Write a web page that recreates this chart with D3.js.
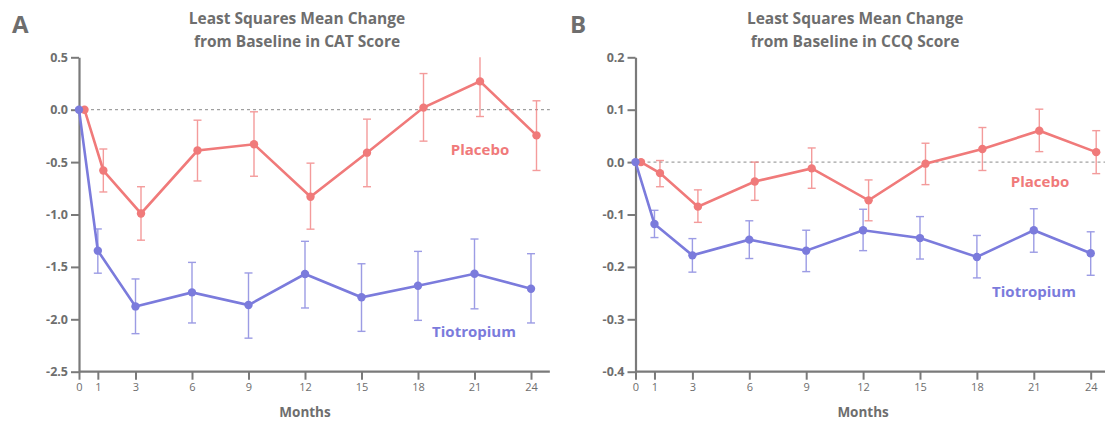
<!DOCTYPE html>
<html><head><meta charset="utf-8">
<script src="https://cdn.jsdelivr.net/npm/d3@7"></script>
<style>
body{margin:0;background:#fff;}
svg{display:block;font-family:"Open Sans",sans-serif;}
</style></head>
<body><svg id="c" width="1105" height="421"></svg>
<script>
const months = [0, 1, 3, 6, 9, 12, 15, 18, 21, 24];
const xTicks = [0, 1, 3, 6, 9, 12, 15, 18, 21, 24];

// Panel A: CAT score
const catPlacebo      = [0, -0.58, -0.99, -0.39, -0.33, -0.83, -0.41, 0.02, 0.27, -0.245];
const catPlaceboLow   = [0, -0.785, -1.245, -0.68, -0.635, -1.14, -0.735, -0.30, -0.065, -0.58];
const catPlaceboHigh  = [0, -0.375, -0.735, -0.10, -0.02, -0.51, -0.09, 0.345, 0.52, 0.085];
const catTio          = [0, -1.345, -1.877, -1.743, -1.864, -1.568, -1.79, -1.68, -1.565, -1.708];
const catTioLow       = [0, -1.56, -2.137, -2.035, -2.18, -1.892, -2.115, -2.01, -1.90, -2.035];
const catTioHigh      = [0, -1.138, -1.615, -1.457, -1.558, -1.256, -1.47, -1.352, -1.234, -1.374];
const catYTicks = [0.5, 0.0, -0.5, -1.0, -1.5, -2.0, -2.5];

// Panel B: CCQ score
const ccqPlacebo      = [0, -0.021, -0.085, -0.037, -0.012, -0.073, -0.003, 0.025, 0.060, 0.019];
const ccqPlaceboLow   = [0, -0.047, -0.115, -0.073, -0.050, -0.112, -0.043, -0.016, 0.020, -0.022];
const ccqPlaceboHigh  = [0, 0.003, -0.053, 0.000, 0.027, -0.034, 0.036, 0.066, 0.101, 0.060];
const ccqTio          = [0, -0.118, -0.178, -0.148, -0.169, -0.130, -0.145, -0.181, -0.130, -0.174];
const ccqTioLow       = [0, -0.144, -0.210, -0.184, -0.209, -0.169, -0.185, -0.221, -0.172, -0.216];
const ccqTioHigh      = [0, -0.092, -0.146, -0.112, -0.130, -0.090, -0.104, -0.140, -0.089, -0.133];
const ccqYTicks = [0.2, 0.1, 0.0, -0.1, -0.2, -0.3, -0.4];

const titleLines = ["Least Squares Mean Change"];
const panelDefs = [
  {letter:"A", title2:"from Baseline in CAT Score", yDomain:[-2.5,0.5], yTicks:catYTicks,
   placebo:[catPlacebo,catPlaceboLow,catPlaceboHigh], tio:[catTio,catTioLow,catTioHigh],
   x0:79, x1:531, letterX:12, placeboLbl:[480,155], tioLbl:[474,337]},
  {letter:"B", title2:"from Baseline in CCQ Score", yDomain:[-0.4,0.2], yTicks:ccqYTicks,
   placebo:[ccqPlacebo,ccqPlaceboLow,ccqPlaceboHigh], tio:[ccqTio,ccqTioLow,ccqTioHigh],
   x0:635.5, x1:1090.7, letterX:570, placeboLbl:[1040,187], tioLbl:[1034,297]}
];

const RED = "#f07a7a", BLUE = "#7b7bdc", GRAY = "#6e6e6e", AXIS = "#7a7a7a";
const yTop = 57.3, yBot = 371.7;
const svg = d3.select("#c");

panelDefs.forEach((p, pi) => {
  const g = svg.append("g");
  const x = d3.scaleLinear().domain([0,24]).range([p.x0, p.x1]);
  const y = d3.scaleLinear().domain(p.yDomain).range([yBot, yTop]);
  const xEnd = x(24) + (x(1)-x(0)) * 1.0;
  const cx = (p.x0 + p.x1) / 2 - 8;
  const dodge = 5.5;

  // titles
  g.append("text").attr("x", p.letterX).attr("y", 33).attr("font-size", 24).attr("font-weight", 700)
    .attr("fill", GRAY).text(p.letter);
  g.append("text").attr("x", cx).attr("y", 24).attr("text-anchor","middle").attr("font-size",15.5)
    .attr("font-weight",700).attr("fill", GRAY).text(titleLines[0]);
  g.append("text").attr("x", cx).attr("y", 47).attr("text-anchor","middle").attr("font-size",15.5)
    .attr("font-weight",700).attr("fill", GRAY).text(p.title2);

  // zero dashed line
  g.append("line").attr("x1", x(0)).attr("x2", xEnd).attr("y1", y(0)).attr("y2", y(0))
    .attr("stroke", "#8a8a8a").attr("stroke-width", 1).attr("stroke-dasharray", "3,3");

  // y axis
  const yAxis = d3.axisLeft(y).tickValues(p.yTicks).tickSize(8).tickSizeOuter(0).tickPadding(3)
    .tickFormat(d3.format(".1f"));
  const ya = g.append("g").attr("transform", `translate(${x(0)},0)`).call(yAxis);
  ya.select(".domain").attr("stroke", AXIS).attr("stroke-width", 2.2);
  ya.selectAll(".tick line").attr("stroke", AXIS).attr("stroke-width", 2);
  ya.selectAll(".tick text").attr("fill", GRAY).attr("font-size", 12.5).attr("font-weight", 700)
    .attr("font-family", "'Open Sans',sans-serif").text(d => d3.format(".1f")(d).replace("−","-"));

  // x axis
  const xAxis = d3.axisBottom(x).tickValues(xTicks).tickSize(8).tickSizeOuter(0).tickPadding(4);
  const xa = g.append("g").attr("transform", `translate(0,${yBot})`).call(xAxis);
  xa.select(".domain").remove();
  xa.append("line").attr("x1", x(0)).attr("x2", xEnd).attr("y1", 0).attr("y2", 0)
    .attr("stroke", AXIS).attr("stroke-width", 2.2);
  xa.selectAll(".tick line").attr("stroke", AXIS).attr("stroke-width", 2);
  xa.selectAll(".tick text").attr("fill", GRAY).attr("font-size", 11).attr("font-weight", 400)
    .attr("font-family", "'Open Sans',sans-serif");
  g.append("text").attr("x", cx + 8).attr("y", 417).attr("text-anchor","middle").attr("font-size",13.5)
    .attr("font-weight",700).attr("fill", GRAY).text("Months");

  // clip
  const clipId = "clip" + pi;
  svg.append("clipPath").attr("id", clipId).append("rect")
    .attr("x", x(0) - 10).attr("y", yTop).attr("width", xEnd - x(0) + 20).attr("height", yBot - yTop);
  const plot = g.append("g").attr("clip-path", `url(#${clipId})`);

  function series(vals, color, off, errAlpha) {
    const [m, lo, hi] = vals;
    const pts = months.map((mo, i) => ({mo, v:m[i], lo:lo[i], hi:hi[i]}));
    const px = d => x(d.mo) + off;
    const eb = plot.append("g").attr("stroke", color).attr("stroke-width", 1.4).attr("opacity", errAlpha);
    pts.filter(d => d.mo > 0).forEach(d => {
      eb.append("line").attr("x1", px(d)).attr("x2", px(d)).attr("y1", y(d.lo)).attr("y2", y(d.hi));
      eb.append("line").attr("x1", px(d)-4).attr("x2", px(d)+4).attr("y1", y(d.lo)).attr("y2", y(d.lo));
      eb.append("line").attr("x1", px(d)-4).attr("x2", px(d)+4).attr("y1", y(d.hi)).attr("y2", y(d.hi));
    });
    plot.append("path").datum(pts)
      .attr("d", d3.line().x(px).y(d => y(d.v)))
      .attr("fill", "none").attr("stroke", color).attr("stroke-width", 2.6);
    plot.append("g").selectAll("circle").data(pts).join("circle")
      .attr("cx", px).attr("cy", d => y(d.v)).attr("r", 4.2).attr("fill", color);
  }
  series(p.placebo, RED, dodge, 0.75);
  series(p.tio, BLUE, 0, 0.75);

  g.append("text").attr("x", p.placeboLbl[0]).attr("y", p.placeboLbl[1]).attr("text-anchor","middle")
    .attr("font-size", 15).attr("font-weight", 700).attr("fill", RED).text("Placebo");
  g.append("text").attr("x", p.tioLbl[0]).attr("y", p.tioLbl[1]).attr("text-anchor","middle")
    .attr("font-size", 15).attr("font-weight", 700).attr("fill", BLUE).text("Tiotropium");
});
</script></body></html>
